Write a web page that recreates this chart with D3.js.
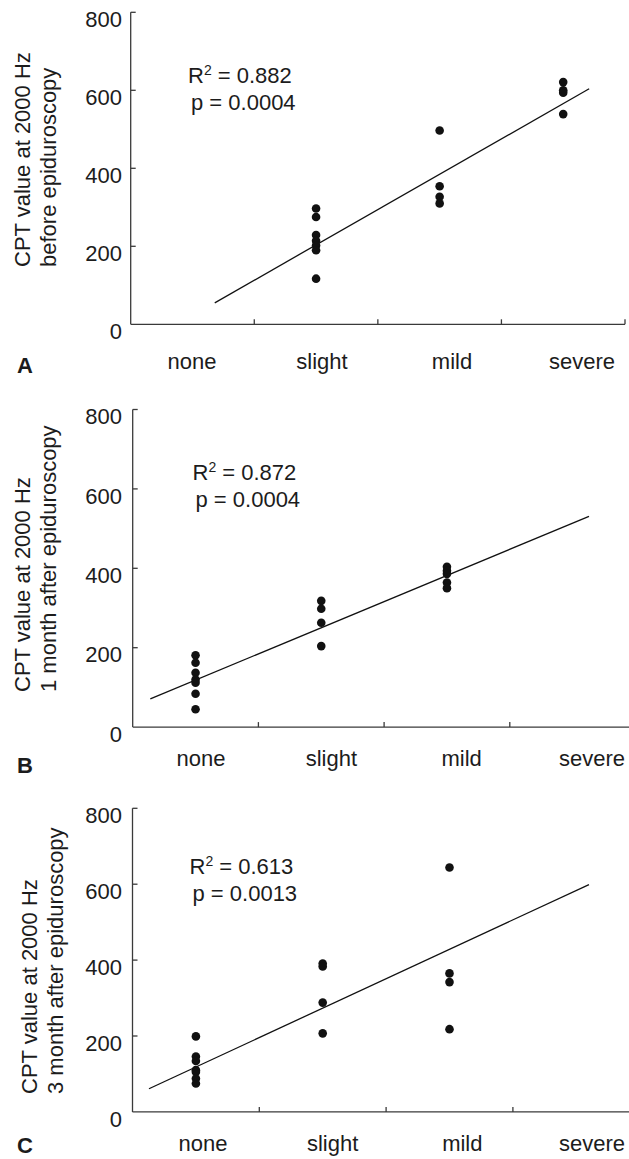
<!DOCTYPE html>
<html>
<head>
<meta charset="utf-8">
<script src="https://cdn.jsdelivr.net/npm/d3@7"></script>
<style>
  body { margin: 0; background: #fff; }
  svg text { font-family: "Liberation Sans", Arial, sans-serif; fill: #1c1c1c; }
  .axis-line { stroke: #3a3a3a; stroke-width: 1.3; fill: none; }
  .fit-line { stroke: #111; stroke-width: 1.3; fill: none; }
  .dot { fill: #111; }
</style>
</head>
<body>
<svg id="chart"></svg>
<script>
var categories = ['none', 'slight', 'mild', 'severe'];
var yTicks = [0, 200, 400, 600, 800];

// values, one array per panel and severity
var aNone = [],
  aSlight = [297, 275, 229, 214, 202, 190, 117],
  aMild = [497, 354, 327, 310],
  aSevere = [621, 600, 594, 539];

var bNone = [181, 162, 137, 120, 112, 84, 45],
  bSlight = [318, 298, 263, 204],
  bMild = [404, 394, 386, 364, 350],
  bSevere = [];

var cNone = [199, 146, 134, 110, 105, 88, 75],
  cSlight = [391, 383, 288, 207],
  cMild = [644, 365, 342, 218],
  cSevere = [];

// regression line end points [category index, value]
var aFit = [[0.18, 55], [3.21, 604]],
  bFit = [[-0.36, 71], [3.13, 531]],
  cFit = [[-0.37, 61], [3.10, 599]];

var rSquared = ['0.882', '0.872', '0.613'];
var pValues = ['0.0004', '0.0004', '0.0013'];
var yLabelTop = 'CPT value at 2000 Hz';
var yLabelBottom = ['before epiduroscopy', '1 month after epiduroscopy', '3 month after epiduroscopy'];
var panelLetters = ['A', 'B', 'C'];

var width = 629, height = 1159;

var layout = [
  {left: 130.7, right: 625, top: 12.3, bottom: 324.3, labelRange: [192, 582], labelY: 369,
    statX: 188, statY: 82.5, titleX: 29.5, titleY: 267, letterY: 373},
  {left: 132.7, right: 635.5, top: 409.5, bottom: 727.1, labelRange: [201, 592], labelY: 766,
    statX: 192.5, statY: 479.5, titleX: 30, titleY: 692, letterY: 773},
  {left: 132.5, right: 639.7, top: 808.3, bottom: 1111.9, labelRange: [203, 592], labelY: 1151,
    statX: 189.5, statY: 874, titleX: 37, titleY: 1094, letterY: 1153}
];

var series = [
  [aNone, aSlight, aMild, aSevere],
  [bNone, bSlight, bMild, bSevere],
  [cNone, cSlight, cMild, cSevere]
];
var fits = [aFit, bFit, cFit];

var svg = d3.select('#chart')
  .attr('width', width)
  .attr('height', height);

layout.forEach(function(L, k) {
  var g = svg.append('g').attr('class', 'panel');

  var x = d3.scaleLinear()
    .domain([-0.5, categories.length - 0.5])
    .range([L.left, L.right]);

  var y = d3.scaleLinear()
    .domain([0, 800])
    .range([L.bottom, L.top]);

  var labelX = d3.scalePoint()
    .domain(categories)
    .range(L.labelRange);

  // axes: y axis with inward ticks, x axis with ticks at band edges
  g.append('line').attr('class', 'axis-line')
    .attr('x1', x(-0.5)).attr('x2', x(-0.5))
    .attr('y1', y(800)).attr('y2', y(0));
  g.append('line').attr('class', 'axis-line')
    .attr('x1', x(-0.5)).attr('x2', x(3.5))
    .attr('y1', y(0)).attr('y2', y(0));

  g.selectAll('.ytick')
    .data(yTicks.filter(function(d) { return d > 0; }))
    .enter().append('line')
    .attr('class', 'axis-line')
    .attr('x1', x(-0.5)).attr('x2', x(-0.5) + 5)
    .attr('y1', function(d) { return y(d); })
    .attr('y2', function(d) { return y(d); });

  g.selectAll('.ylabel')
    .data(yTicks)
    .enter().append('text')
    .attr('x', 122)
    .attr('y', function(d) { return y(d) + 7; })
    .attr('dy', '0.35em')
    .style('text-anchor', 'end')
    .style('font-size', '22px')
    .text(function(d) { return d; });

  g.selectAll('.xtick')
    .data([0.5, 1.5, 2.5, 3.5])
    .enter().append('line')
    .attr('class', 'axis-line')
    .attr('x1', function(d) { return x(d); })
    .attr('x2', function(d) { return x(d); })
    .attr('y1', y(0)).attr('y2', y(0) - 5);

  g.selectAll('.xlabel')
    .data(categories)
    .enter().append('text')
    .attr('x', function(d) { return labelX(d); })
    .attr('y', L.labelY)
    .style('text-anchor', 'middle')
    .style('font-size', '22px')
    .text(function(d) { return d; });

  // regression line
  g.append('line')
    .attr('class', 'fit-line')
    .attr('x1', x(fits[k][0][0])).attr('y1', y(fits[k][0][1]))
    .attr('x2', x(fits[k][1][0])).attr('y2', y(fits[k][1][1]));

  // points
  var pts = [];
  series[k].forEach(function(vals, i) {
    vals.forEach(function(v) { pts.push({i: i, v: v}); });
  });
  g.selectAll('.dot')
    .data(pts)
    .enter().append('circle')
    .attr('class', 'dot')
    .attr('r', 4.3)
    .attr('cx', function(d) { return x(d.i); })
    .attr('cy', function(d) { return y(d.v); });

  // statistics
  var r2 = g.append('text')
    .attr('x', L.statX)
    .attr('y', L.statY)
    .style('font-size', '22px');
  r2.append('tspan').text('R');
  r2.append('tspan').attr('dy', -8).style('font-size', '14px').text('2');
  r2.append('tspan').attr('dy', 8).text(' = ' + rSquared[k]);

  g.append('text')
    .attr('x', L.statX + 3)
    .attr('y', L.statY + 27)
    .style('font-size', '22px')
    .text('p = ' + pValues[k]);

  // y axis title, two lines reading upward
  var title = g.append('text')
    .attr('transform', 'translate(' + L.titleX + ',' + L.titleY + ') rotate(-90)')
    .style('font-size', '22px');
  title.append('tspan').attr('x', 0).attr('y', 0).text(yLabelTop);
  title.append('tspan').attr('x', 0).attr('y', 26).text(yLabelBottom[k]);

  g.append('text')
    .attr('x', 17)
    .attr('y', L.letterY)
    .style('font-size', '22px')
    .style('font-weight', 'bold')
    .text(panelLetters[k]);
});
</script>
</body>
</html>
